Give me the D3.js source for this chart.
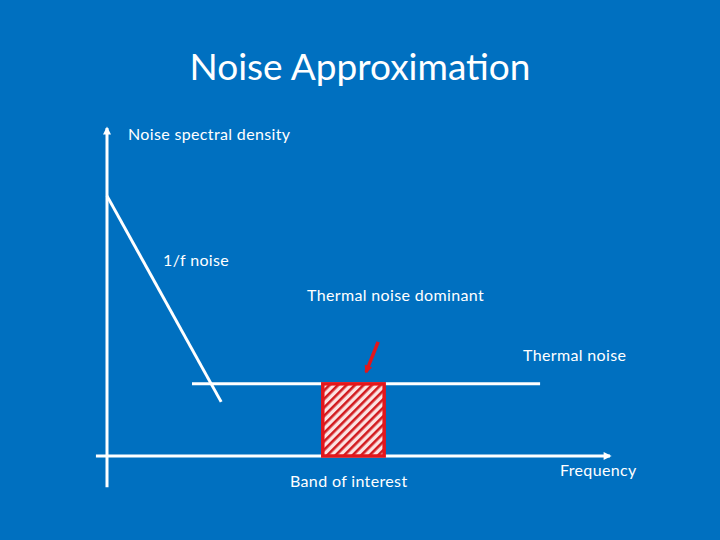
<!DOCTYPE html>
<html><head><meta charset="utf-8">
<script src="https://cdn.jsdelivr.net/npm/d3@7"></script>
<style>html,body{margin:0;padding:0;background:#0070C0;}svg{display:block;}</style>
</head><body>
<svg id="c" width="720" height="540"></svg>
<script>
// Diagram values in abstract units (frequency 0..100, density 0..100)
const title = "Noise Approximation";
const axisLabels = ["Noise spectral density", "Frequency"];
const flickerNoise = [{f: 0, d: 79.3}, {f: 22.7, d: 16.5}];
const thermalNoise = [{f: 16.9, d: 22.0}, {f: 86.1, d: 22.0}];
const band = {f0: 42.9, f1: 55.1, d0: 0, d1: 22.0};
const pointer = [{f: 53.9, d: 34.8}, {f: 51.5, d: 25.6}];
const annotations = ["1/f noise", "Thermal noise dominant", "Thermal noise", "Band of interest"];
const xAxisExtent = [-2.2, 100];
const yAxisExtent = [-9.5, 100];

const svg = d3.select("#c");
const x = d3.scaleLinear().domain([0, 100]).range([107, 610]);
const y = d3.scaleLinear().domain([0, 100]).range([456, 128]);
const W = "#FFFFFF", RED = "#E3161B";
const font = "Lato, 'Open Sans', sans-serif";

svg.append("rect").attr("width",720).attr("height",540).attr("fill","#0070C0");

const defs = svg.append("defs");
const mk = (id, col, w, h) => defs.append("marker").attr("id", id)
  .attr("viewBox","0 0 10 10").attr("refX",8).attr("refY",5)
  .attr("markerWidth",w).attr("markerHeight",h).attr("markerUnits","userSpaceOnUse")
  .attr("orient","auto").append("path").attr("d","M0,0L10,5L0,10Z").attr("fill",col);
mk("aw", W, 9, 8);
mk("ar", RED, 9, 8);
const pat = defs.append("pattern").attr("id","hatch").attr("patternUnits","userSpaceOnUse")
  .attr("width",6).attr("height",6).attr("patternTransform","rotate(45)");
pat.append("rect").attr("width",6).attr("height",6).attr("fill","#FBE3E3");
pat.append("rect").attr("width",2.6).attr("height",6).attr("fill","#D21A1E");

// Title
svg.append("text").attr("x",360).attr("y",80).attr("text-anchor","middle")
  .attr("font-family",font).attr("font-size",37).attr("fill",W).text(title);

// Axes
svg.append("line").attr("x1",x(0)).attr("x2",x(0)).attr("y1",y(yAxisExtent[0])).attr("y2",y(yAxisExtent[1]))
  .attr("stroke",W).attr("stroke-width",3).attr("marker-end","url(#aw)");
svg.append("line").attr("x1",x(xAxisExtent[0])).attr("x2",x(xAxisExtent[1])).attr("y1",y(0)).attr("y2",y(0))
  .attr("stroke",W).attr("stroke-width",3).attr("marker-end","url(#aw)");

const line = d3.line().x(d => x(d.f)).y(d => y(d.d));
svg.append("path").attr("d", line(flickerNoise)).attr("stroke",W).attr("stroke-width",3).attr("fill","none");
svg.append("path").attr("d", line(thermalNoise)).attr("stroke",W).attr("stroke-width",3).attr("fill","none");

// Band of interest
svg.append("rect").attr("x",x(band.f0)).attr("y",y(band.d1))
  .attr("width",x(band.f1)-x(band.f0)).attr("height",y(band.d0)-y(band.d1))
  .attr("fill","url(#hatch)").attr("stroke",RED).attr("stroke-width",3.5);

svg.append("path").attr("d", line(pointer)).attr("stroke",RED).attr("stroke-width",3.5)
  .attr("fill","none").attr("marker-end","url(#ar)");

// Labels
const lab = (t, px, py) => svg.append("text").attr("x",px).attr("y",py)
  .attr("font-family",font).attr("font-size",16).attr("letter-spacing",0.35)
  .attr("fill",W).text(t);
lab(axisLabels[0], 128, 140);
lab(axisLabels[1], 560, 476);
lab(annotations[0], 163, 266);
lab(annotations[1], 307, 301);
lab(annotations[2], 523, 361);
lab(annotations[3], 290, 487);
</script>
</body></html>
